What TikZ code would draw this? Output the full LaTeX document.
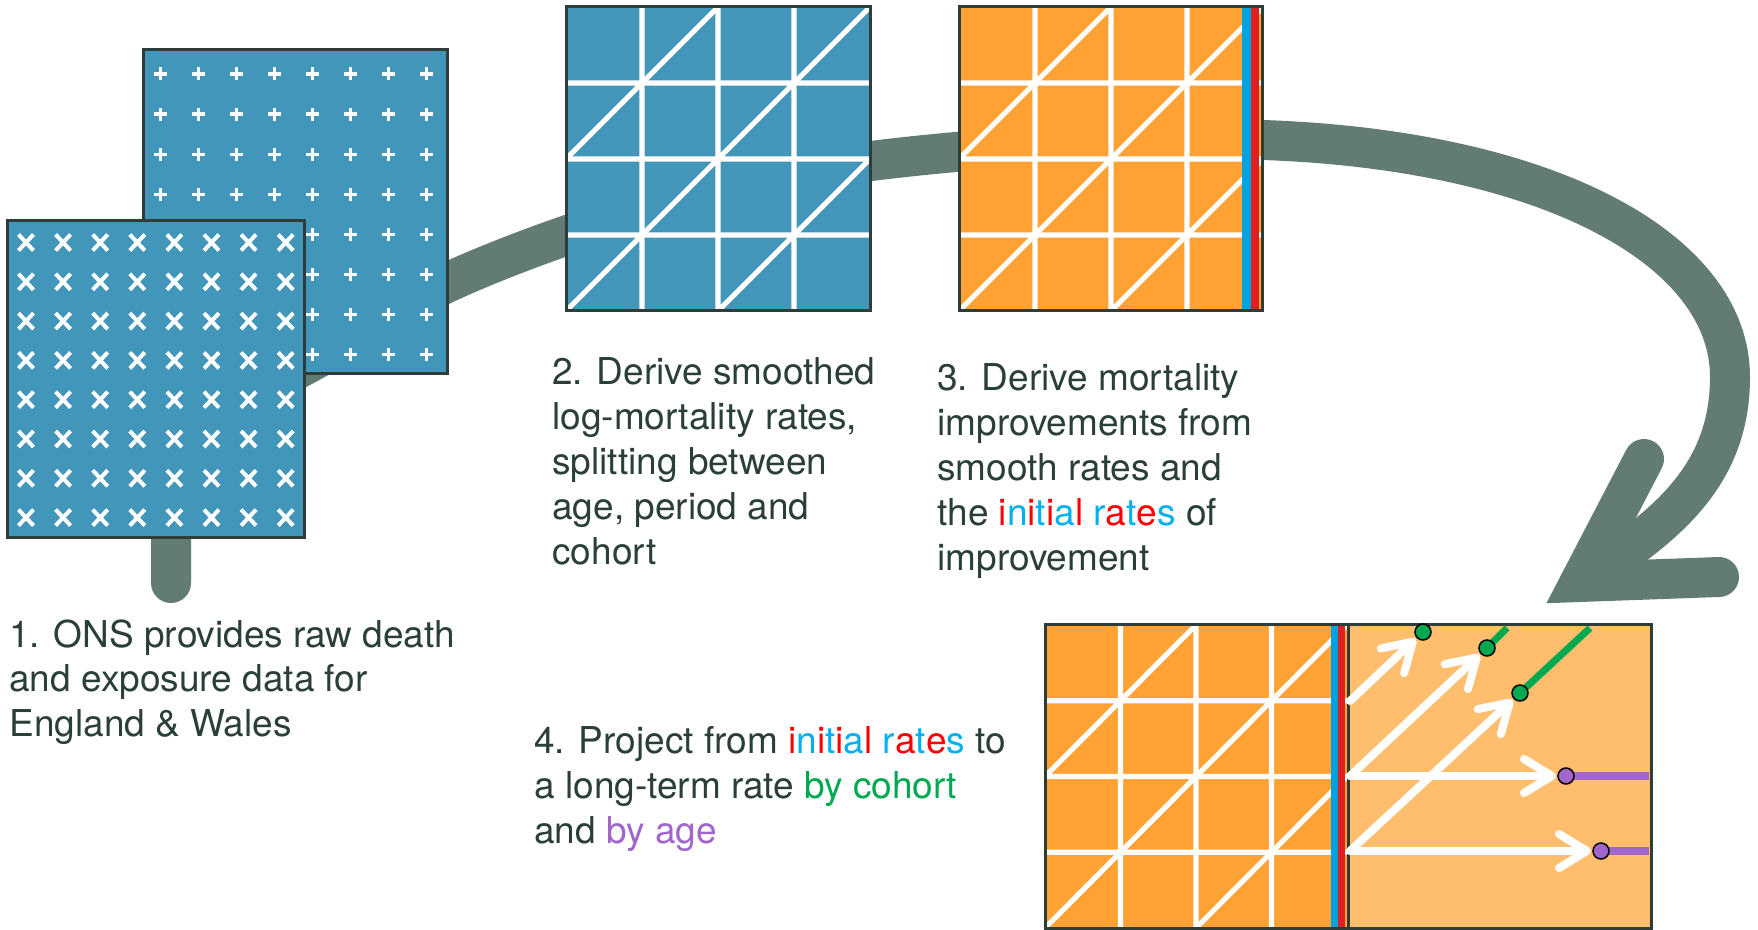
\documentclass[tikz,border=0pt]{standalone}
\usepackage{fontspec}
\setmainfont{TeX Gyre Heros}
\usetikzlibrary{arrows.meta}

\definecolor{tealgray}{RGB}{98,123,117}
\definecolor{gridblue}{RGB}{65,150,185}
\definecolor{gridorange}{RGB}{255,162,51}
\definecolor{paleorange}{RGB}{255,190,110}
\definecolor{edge}{RGB}{46,61,56}
\definecolor{ink}{RGB}{42,63,57}
\definecolor{stripeblue}{RGB}{0,163,224}
\definecolor{stripered}{RGB}{224,32,32}
\definecolor{txtred}{RGB}{255,0,0}
\definecolor{txtblue}{RGB}{0,176,240}
\definecolor{cohortgreen}{RGB}{0,168,80}
\definecolor{agepurple}{RGB}{160,102,204}

% alternating red/blue letters for the initial rates
\newcommand{\Rd}[1]{\textcolor{txtred}{#1}}
\newcommand{\Bl}[1]{\textcolor{txtblue}{#1}}
\newcommand{\initialrates}{\Rd{i}\Bl{n}\Rd{i}\Bl{t}\Rd{i}\Bl{a}\Rd{l} \Bl{r}\Rd{a}\Bl{t}\Rd{e}\Bl{s}}

% 4x4 age/period grid with cohort diagonals: left, top, right, bottom
\newcommand{\cohortgrid}[4]{%
  \begin{scope}
    \clip (#1,#2) rectangle (#3,#4);
    \pgfmathsetmacro{\cgxa}{#1+(#3-#1)/4}
    \pgfmathsetmacro{\cgxb}{#1+(#3-#1)/2}
    \pgfmathsetmacro{\cgxc}{#1+3*(#3-#1)/4}
    \pgfmathsetmacro{\cgya}{#2+(#4-#2)/4}
    \pgfmathsetmacro{\cgyb}{#2+(#4-#2)/2}
    \pgfmathsetmacro{\cgyc}{#2+3*(#4-#2)/4}
    \draw[gridline]
      (\cgxa,#2) -- (\cgxa,#4) (\cgxb,#2) -- (\cgxb,#4) (\cgxc,#2) -- (\cgxc,#4)
      (#1,\cgya) -- (#3,\cgya) (#1,\cgyb) -- (#3,\cgyb) (#1,\cgyc) -- (#3,\cgyc)
      (#1,#4) -- (#3,#2) (#1,\cgyb) -- (\cgxb,#2) (\cgxb,#4) -- (#3,\cgyb);
  \end{scope}}

% one paragraph, anchored at the baseline of its first line
\newcommand{\lines}[1]{\vtop{#1}}

\begin{document}
\begin{tikzpicture}[x=0.5pt, y=-0.5pt,
  band/.style={draw=tealgray, line width=20pt},
  gridline/.style={draw=white, line width=2.6pt},
  frame/.style={draw=edge, line width=1.5pt},
  xmark/.style={draw=white, line width=2pt},
  pmark/.style={draw=white, line width=1.6pt},
  txt/.style={anchor=base west, inner sep=0pt, text=ink,
    font=\fontsize{18.5pt}{22.4pt}\selectfont},
  projarrow/.style={draw=white, line width=4pt, line cap=round,
    -{Straight Barb[length=14pt,width=17pt,line cap=round,line join=round]}},
  cohortline/.style={draw=cohortgreen, line width=3.5pt},
  ageline/.style={draw=agepurple, line width=4pt},
  dot/.style={circle, draw=black, line width=0.75pt, minimum size=8pt, inner sep=0pt},
]
\useasboundingbox (0,0) rectangle (1758,930);

% ---- the process loop running behind the panels ----
\coordinate (loopstart) at (171,583);
\coordinate (loopend) at (1580,582);
\coordinate (barbup) at (1644,459);
\coordinate (barbright) at (1719,577);
\draw[band, line cap=round] (loopstart) -- (171,530)
  .. controls (171,440) and (240,400) .. (305,365)
  .. controls (370,330) and (408,300) .. (453,280)
  .. controls (553,235) and (721,180) .. (871,161)
  .. controls (1000,145) and (1150,138) .. (1263,140)
  .. controls (1550,150) and (1730,250) .. (1730,377)
  .. controls (1730,480) and (1660,530) .. (loopend);
\draw[band, line cap=round, line join=miter] (barbup) -- (loopend) -- (barbright);

% ---- step 1: raw exposure (+) and death (x) data ----
\fill[gridblue] (143,50) rectangle (447,374);
\foreach \i in {0,...,7}{\foreach \j in {0,...,7}{
  \draw[pmark] (160.7+38*\i-6.5, 74+40.1*\j) -- ++(13,0)
               (160.7+38*\i, 74+40.1*\j-6.5) -- ++(0,13);}}
\draw[frame] (143,50) rectangle (447,374);

\fill[gridblue] (7,221) rectangle (304,538);
\foreach \i in {0,...,7}{\foreach \j in {0,...,7}{
  \draw[xmark] (26+37.1*\i-7.5, 242.5+39.3*\j-8) -- ++(15,16)
               (26+37.1*\i-7.5, 242.5+39.3*\j+8) -- ++(15,-16);}}
\draw[frame] (7,221) rectangle (304,538);

% ---- step 2: smoothed rates ----
\fill[gridblue] (566,7) rectangle (870,311);
\cohortgrid{566}{7}{870}{311}
\draw[frame] (566,7) rectangle (870,311);

% ---- step 3: improvements with initial rates ----
\fill[gridorange] (959,7) rectangle (1263,311);
\cohortgrid{959}{7}{1263}{311}
\fill[stripeblue] (1242,7) rectangle (1251,311);
\fill[stripered] (1251,7) rectangle (1259,311);
\draw[frame] (959,7) rectangle (1262,311);

% ---- step 4: projection ----
\fill[gridorange] (1045,625) rectangle (1347,928);
\cohortgrid{1045}{625}{1347}{928}
\fill[paleorange] (1347,625) rectangle (1651,928);
\fill[stripeblue] (1331,625) rectangle (1338,928);
\fill[stripered] (1338,625) rectangle (1345,928);
\draw[frame] (1348,625) -- (1348,928);
\draw[frame] (1045,625) rectangle (1651,928);

\coordinate (s1) at (1350,701);
\coordinate (s2) at (1350,776);
\coordinate (s3) at (1350,851);
\coordinate (c1) at (1423,632);
\coordinate (c2) at (1487,648);
\coordinate (c3) at (1520,693);
\coordinate (a4) at (1566,776);
\coordinate (a5) at (1601,851);
\coordinate (c2end) at (1507,628);
\coordinate (c3end) at (1590,628);
\coordinate (a4end) at (1649,776);
\coordinate (a5end) at (1649,851);

\draw[projarrow, shorten >=5pt] (s2) -- (a4);
\draw[projarrow, shorten >=5pt] (s3) -- (a5);
\draw[projarrow, shorten >=5pt] (s1) -- (c1);
\draw[projarrow, shorten >=5pt] (s2) -- (c2);
\draw[projarrow, shorten >=5pt] (s3) -- (c3);
\draw[cohortline] (c2) -- (c2end);
\draw[cohortline] (c3) -- (c3end);
\draw[ageline] (a4) -- (a4end);
\draw[ageline] (a5) -- (a5end);
\node[dot, fill=cohortgreen] (dot1) at (c1) {};
\node[dot, fill=cohortgreen] (dot2) at (c2) {};
\node[dot, fill=cohortgreen] (dot3) at (c3) {};
\node[dot, fill=agepurple] (dot4) at (a4) {};
\node[dot, fill=agepurple] (dot5) at (a5) {};

% ---- captions ----
\node[txt] (cap1) at (9,647) {\lines{\hbox{1. ONS provides raw death}\hbox{and exposure data for}\hbox{England \& Wales}}};
\node[txt] (cap2) at (552,385) {\lines{\hbox{2. Derive smoothed}\hbox{log-mortality rates,}\hbox{splitting between}\hbox{age, period and}\hbox{cohort}}};
\node[txt] (cap3) at (937,391) {\lines{\hbox{3. Derive mortality}\hbox{improvements from}\hbox{smooth rates and}\hbox{the \initialrates{} of}\hbox{improvement}}};
\node[txt] (cap4) at (534,754) {\lines{\hbox{4. Project from \initialrates{} to}\hbox{a long-term rate \textcolor{cohortgreen}{by cohort}}\hbox{and \textcolor{agepurple}{by age}}}};
\end{tikzpicture}
\end{document}
